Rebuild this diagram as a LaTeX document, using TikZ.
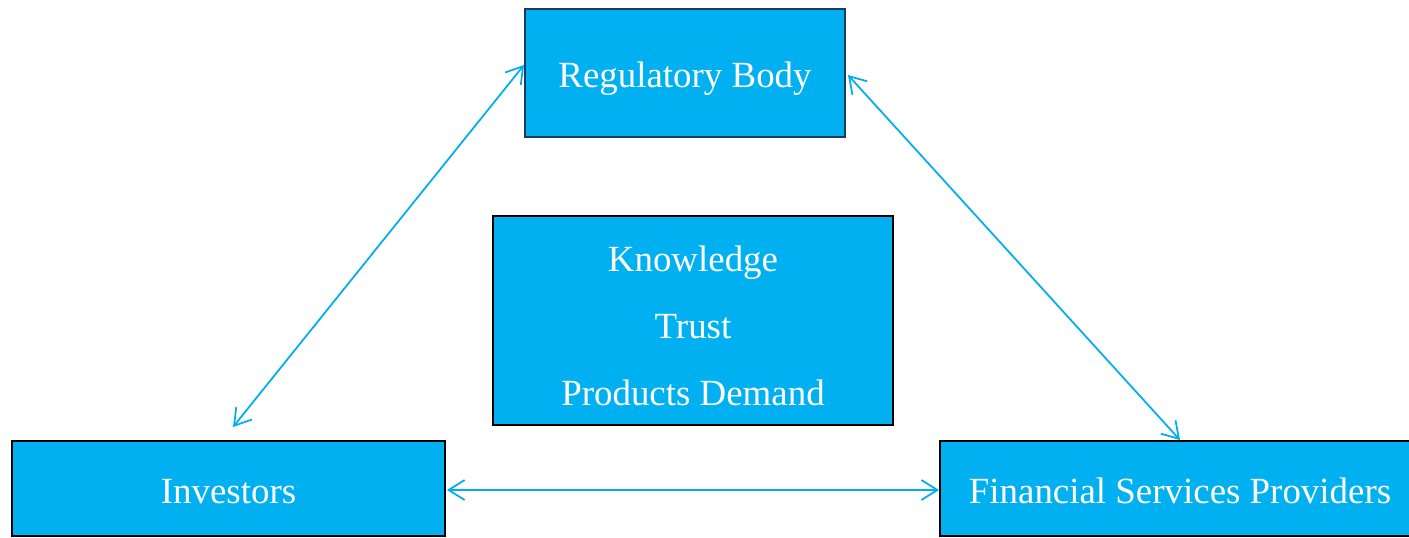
\documentclass[tikz,border=0pt]{standalone}
\usepackage{fontspec}
\setmainfont{Liberation Serif}
\usetikzlibrary{arrows.meta, positioning, calc}

\definecolor{boxblue}{HTML}{00B0F0}
\definecolor{linkblue}{HTML}{00AEEF}
\definecolor{navyedge}{HTML}{1F3A5A}

\begin{document}
\begin{tikzpicture}[
		block/.style={rectangle, draw=black, line width=1.1pt, fill=boxblue, text=white, align=center, font=\fontsize{21}{38}\selectfont, inner sep=0pt},
		drop/.style={text height=#1, text depth=4.6pt},
		arrow/.style={{Straight Barb[length=3.2mm, width=4mm]}-{Straight Barb[length=3.2mm, width=4mm]}, line width=1pt, draw=linkblue}
		]
		\useasboundingbox (0,0) rectangle (28.18,-10.74);

		\node[block, drop=21pt, draw=navyedge, minimum width=6.4cm, minimum height=2.56cm] (reg) at (13.7,-1.46) {Regulatory Body};
		\node[block, minimum width=8cm, minimum height=4.18cm] (core) at (13.86,-6.41) {\rule{0pt}{21pt}Knowledge\\Trust\\Products Demand};
		\node[block, drop=22pt, minimum width=8.66cm, minimum height=1.9cm] (inv) at (4.57,-9.77) {Investors};
		\node[block, drop=22pt, minimum width=9.6cm, minimum height=1.9cm] (fsp) at (23.6,-9.77) {Financial Services Providers};

		\draw[arrow] ($(reg.west)+(0,0.16)$) -- ($(inv.north)+(0.09,0.26)$);
		\draw[arrow] ($(reg.east)+(0.04,-0.04)$) -- (fsp.north);
		\draw[arrow] ($(inv.east)+(0.02,-0.03)$) -- ($(fsp.west)+(0,-0.03)$);
	\end{tikzpicture}
\end{document}
